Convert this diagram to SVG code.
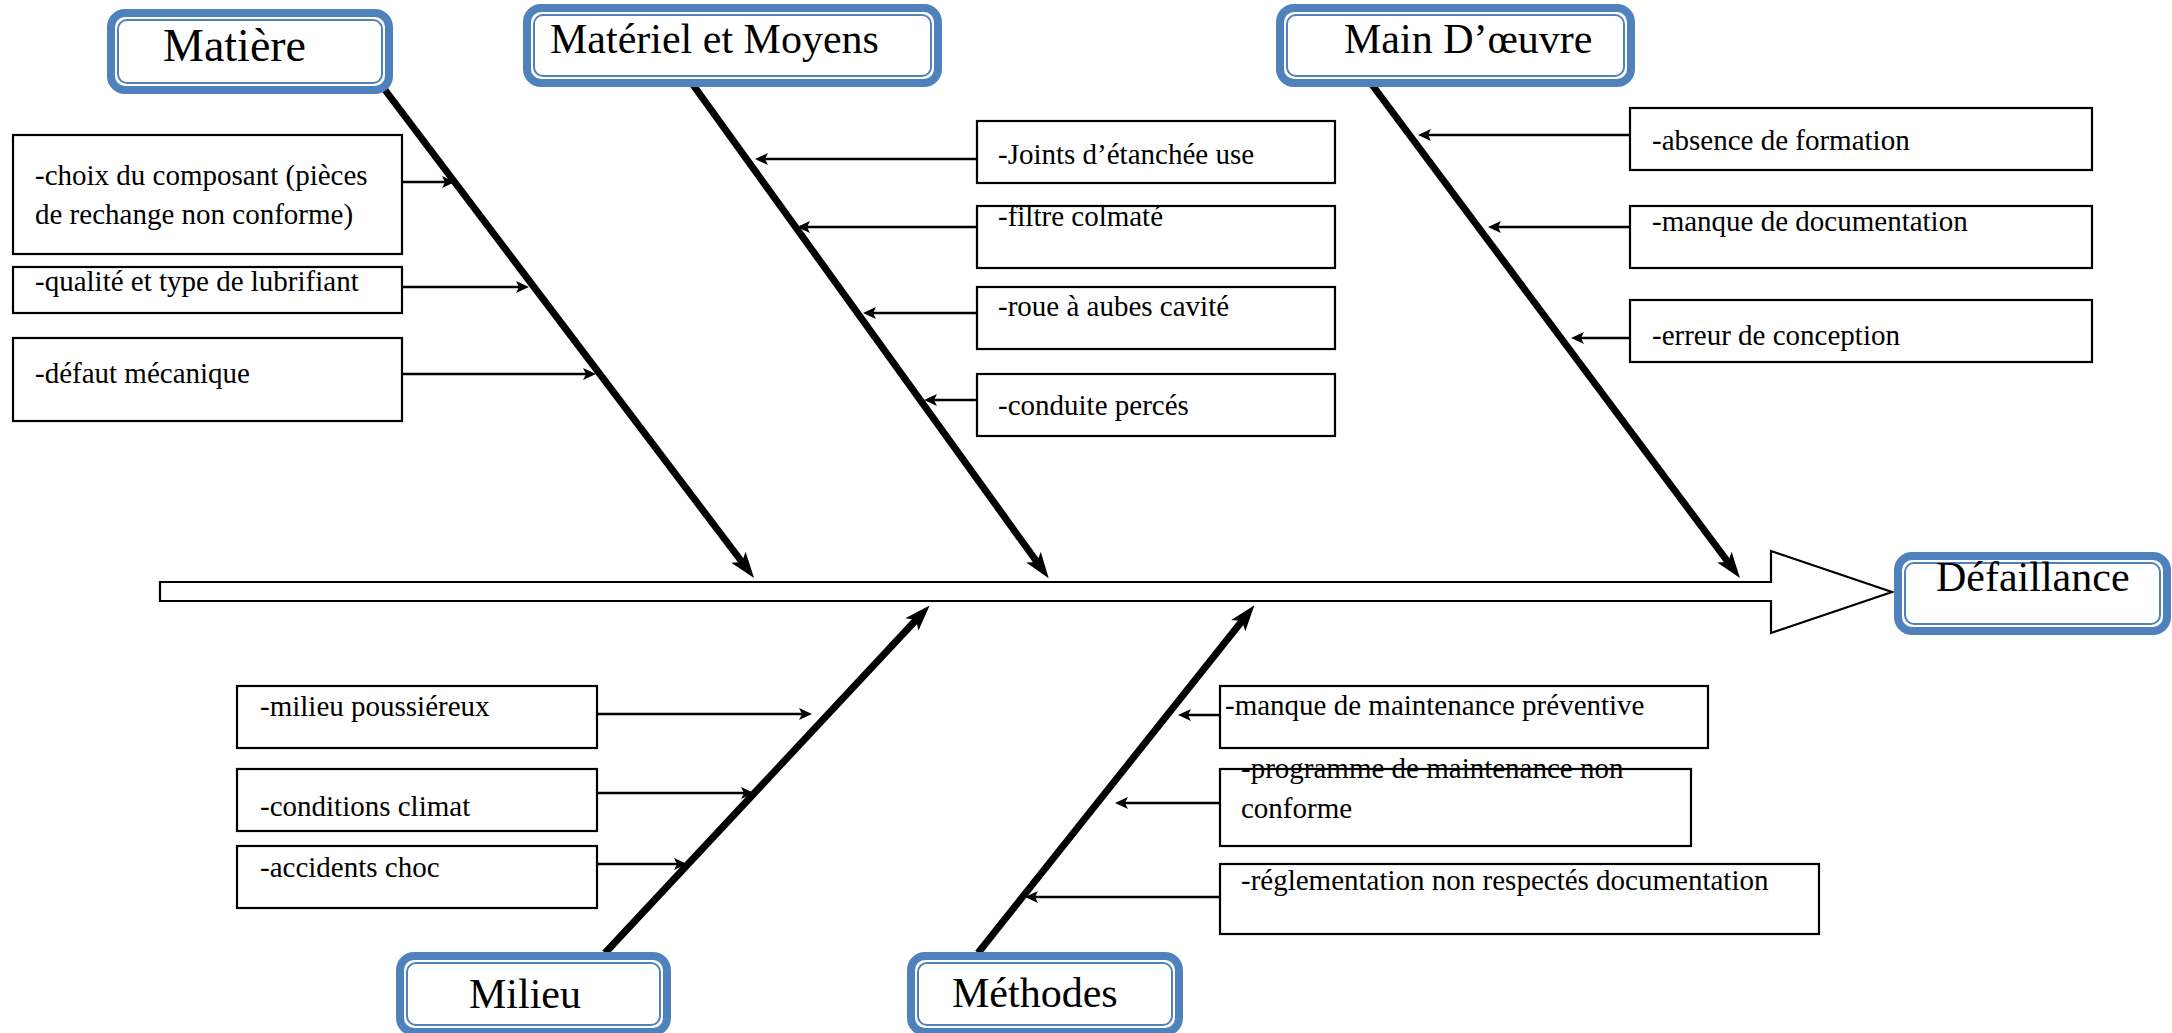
<svg xmlns="http://www.w3.org/2000/svg" width="2172" height="1033" viewBox="0 0 2172 1033">
  <style>
    .title-outer { fill: #ffffff; stroke: #4f81bd; stroke-width: 8; }
    .title-inner { fill: none; stroke: #4f81bd; stroke-width: 2; }
    .title { font-family: "Liberation Serif", "Times New Roman", serif; font-size: 42px; fill: #000; }
    .cause { fill: #ffffff; stroke: #000; stroke-width: 2.2; }
    .label { font-family: "Liberation Serif", "Times New Roman", serif; font-size: 29px; fill: #000; }
    .bone { stroke: #000; stroke-width: 7; fill: none; marker-end: url(#bigHead); }
    .twig { stroke: #000; stroke-width: 2.5; fill: none; marker-end: url(#smallHead); }
  </style>
  <defs>
    <marker id="bigHead" markerUnits="userSpaceOnUse" orient="auto" refX="6" refY="0" markerWidth="30" markerHeight="20" overflow="visible">
      <path d="M0,-9 L26,0 L0,9 L6,0 z" fill="#000"/>
    </marker>
    <marker id="smallHead" markerUnits="userSpaceOnUse" orient="auto" refX="3" refY="0" markerWidth="16" markerHeight="12" overflow="visible">
      <path d="M0,-6 L13,0 L0,6 L3,0 z" fill="#000"/>
    </marker>
  </defs>

  <rect width="2172" height="1033" fill="#ffffff"/>

  <!-- main spine -->
  <g id="spine">
    <polygon points="160,582 1771,582 1771,551 1892,592 1771,633 1771,601 160,601" fill="#ffffff" stroke="#000" stroke-width="2.2"/>
  </g>

  <!-- bones and twigs -->
  <g id="connectors">
    <line class="bone" x1="379" y1="82" x2="742" y2="562"/>
    <line class="bone" x1="691" y1="82" x2="1037" y2="562"/>
    <line class="bone" x1="1370" y1="82" x2="1728" y2="562"/>
    <line class="bone" x1="605" y1="953" x2="916" y2="620"/>
    <line class="bone" x1="978" y1="953" x2="1242" y2="621"/>

    <line class="twig" x1="402" y1="182" x2="445" y2="182"/>
    <line class="twig" x1="402" y1="287" x2="519" y2="287"/>
    <line class="twig" x1="402" y1="374" x2="586" y2="374"/>

    <line class="twig" x1="977" y1="159" x2="765" y2="159"/>
    <line class="twig" x1="977" y1="227" x2="807" y2="227"/>
    <line class="twig" x1="977" y1="313" x2="873" y2="313"/>
    <line class="twig" x1="977" y1="400" x2="934" y2="400"/>

    <line class="twig" x1="1630" y1="135" x2="1428" y2="135"/>
    <line class="twig" x1="1630" y1="227" x2="1498" y2="227"/>
    <line class="twig" x1="1630" y1="338" x2="1581" y2="338"/>

    <line class="twig" x1="597" y1="714" x2="802" y2="714"/>
    <line class="twig" x1="597" y1="793" x2="744" y2="793"/>
    <line class="twig" x1="597" y1="864" x2="677" y2="864"/>

    <line class="twig" x1="1220" y1="715" x2="1188" y2="715"/>
    <line class="twig" x1="1220" y1="803" x2="1125" y2="803"/>
    <line class="twig" x1="1220" y1="897" x2="1035" y2="897"/>
  </g>

  <!-- category headers -->
  <g id="matiere">
    <rect class="title-outer" x="111" y="13" width="278" height="77" rx="14"/>
    <rect class="title-inner" x="118" y="20" width="264" height="63" rx="9"/>
    <text class="title" x="163" y="61" style="font-size:46px">Matière</text>
  </g>
  <g id="materiel">
    <rect class="title-outer" x="527" y="8" width="411" height="75" rx="14"/>
    <rect class="title-inner" x="534" y="15" width="397" height="61" rx="9"/>
    <text class="title" x="550" y="53">Matériel et Moyens</text>
  </g>
  <g id="main-oeuvre">
    <rect class="title-outer" x="1280" y="8" width="351" height="75" rx="14"/>
    <rect class="title-inner" x="1287" y="15" width="337" height="61" rx="9"/>
    <text class="title" x="1344" y="53">Main D’œuvre</text>
  </g>
  <g id="milieu">
    <rect class="title-outer" x="400" y="956" width="267" height="76" rx="14"/>
    <rect class="title-inner" x="407" y="963" width="253" height="62" rx="9"/>
    <text class="title" x="469" y="1008">Milieu</text>
  </g>
  <g id="methodes">
    <rect class="title-outer" x="911" y="956" width="268" height="76" rx="14"/>
    <rect class="title-inner" x="918" y="963" width="254" height="62" rx="9"/>
    <text class="title" x="952" y="1007">Méthodes</text>
  </g>
  <g id="defaillance">
    <rect class="title-outer" x="1898" y="556" width="269" height="75" rx="14"/>
    <rect class="title-inner" x="1905" y="563" width="255" height="61" rx="9"/>
    <text class="title" x="1936" y="591">Défaillance</text>
  </g>

  <!-- Matière causes -->
  <g id="cause-composant">
    <rect class="cause" x="13" y="135" width="389" height="119"/>
    <text class="label" x="35" y="185">-choix du composant (pièces</text>
    <text class="label" x="35" y="224">de rechange non conforme)</text>
  </g>
  <g id="cause-lubrifiant">
    <rect class="cause" x="13" y="267" width="389" height="46"/>
    <text class="label" x="35" y="291">-qualité et type de lubrifiant</text>
  </g>
  <g id="cause-mecanique">
    <rect class="cause" x="13" y="338" width="389" height="83"/>
    <text class="label" x="35" y="383">-défaut mécanique</text>
  </g>

  <!-- Matériel et Moyens causes -->
  <g id="cause-joints">
    <rect class="cause" x="977" y="121" width="358" height="62"/>
    <text class="label" x="998" y="164">-Joints d’étanchée use</text>
  </g>
  <g id="cause-filtre">
    <rect class="cause" x="977" y="206" width="358" height="62"/>
    <text class="label" x="998" y="226">-filtre colmaté</text>
  </g>
  <g id="cause-roue">
    <rect class="cause" x="977" y="287" width="358" height="62"/>
    <text class="label" x="998" y="316">-roue à aubes cavité</text>
  </g>
  <g id="cause-conduite">
    <rect class="cause" x="977" y="374" width="358" height="62"/>
    <text class="label" x="998" y="415">-conduite percés</text>
  </g>

  <!-- Main d'œuvre causes -->
  <g id="cause-formation">
    <rect class="cause" x="1630" y="108" width="462" height="62"/>
    <text class="label" x="1652" y="150">-absence de formation</text>
  </g>
  <g id="cause-documentation">
    <rect class="cause" x="1630" y="206" width="462" height="62"/>
    <text class="label" x="1652" y="231">-manque de documentation</text>
  </g>
  <g id="cause-conception">
    <rect class="cause" x="1630" y="300" width="462" height="62"/>
    <text class="label" x="1652" y="345">-erreur de conception</text>
  </g>

  <!-- Milieu causes -->
  <g id="cause-poussiere">
    <rect class="cause" x="237" y="686" width="360" height="62"/>
    <text class="label" x="260" y="716">-milieu poussiéreux</text>
  </g>
  <g id="cause-climat">
    <rect class="cause" x="237" y="769" width="360" height="62"/>
    <text class="label" x="260" y="816">-conditions climat</text>
  </g>
  <g id="cause-choc">
    <rect class="cause" x="237" y="846" width="360" height="62"/>
    <text class="label" x="260" y="877">-accidents choc</text>
  </g>

  <!-- Méthodes causes -->
  <g id="cause-preventive">
    <rect class="cause" x="1220" y="686" width="488" height="62"/>
    <text class="label" x="1225" y="715">-manque de maintenance préventive</text>
  </g>
  <g id="cause-programme">
    <rect class="cause" x="1220" y="769" width="471" height="77"/>
    <text class="label" x="1241" y="778">-programme de maintenance non</text>
    <text class="label" x="1241" y="818">conforme</text>
  </g>
  <g id="cause-reglementation">
    <rect class="cause" x="1220" y="864" width="599" height="70"/>
    <text class="label" x="1241" y="890">-réglementation non respectés documentation</text>
  </g>
</svg>
